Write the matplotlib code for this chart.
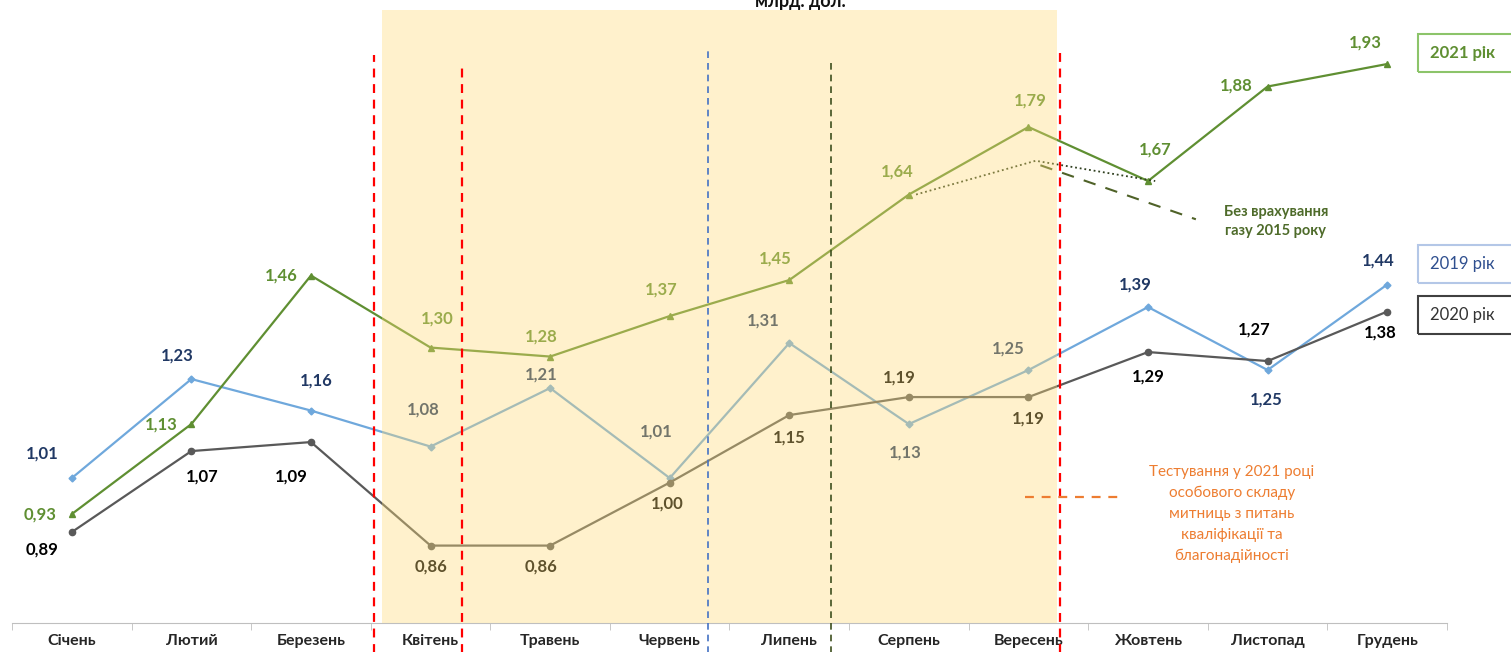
import matplotlib
matplotlib.use("Agg")
import matplotlib.pyplot as plt
from matplotlib.patches import Rectangle

FONT = ["Lato", "DejaVu Sans"]
plt.rcParams["font.family"] = FONT

months = ["Січень", "Лютий", "Березень", "Квітень", "Травень", "Червень",
          "Липень", "Серпень", "Вересень", "Жовтень", "Листопад", "Грудень"]
y2019 = [1.01, 1.23, 1.16, 1.08, 1.21, 1.01, 1.31, 1.13, 1.25, 1.39, 1.25, 1.44]
y2020 = [0.89, 1.07, 1.09, 0.86, 0.86, 1.00, 1.15, 1.19, 1.19, 1.29, 1.27, 1.38]
y2021 = [0.93, 1.13, 1.46, 1.30, 1.28, 1.37, 1.45, 1.64, 1.79, 1.67, 1.88, 1.93]
# line without 2015 gas (Aug-Oct), as drawn
no_gas_x = [7, 8, 9]
no_gas_y = [1.64, 1.715, 1.67]

# label offsets (pixels, x right / y down)
off2021 = [(-32, 0), (-30, 0), (-30, 0), (7, -29), (-9, -20), (-8, -27),
           (-14, -22), (-12, -23), (2, -27), (7, -32), (-31, -1), (-22, -21)]
off2019 = [(-30, -25), (-14, -24), (5, -30), (-7, -37), (-9, -14), (-13, -47),
           (-26, -23), (-4, 28), (-20, -22), (-13, -23), (-1, 29), (-9, -24)]
off2020 = [(-30, 17), (11, 25), (-20, 34), (0, 21), (-9, 21), (-2, 21),
           (0, 22), (-10, -20), (0, 21), (0, 24), (-13, -32), (-7, 21)]

C2021 = "#5f8f32"
C2019 = "#6fa8dc"
C2019_LBL = "#203864"
C2020 = "#595959"
C2020_LBL = "#000000"

fig = plt.figure(figsize=(15.11, 6.52), dpi=100)
ax = fig.add_axes([12 / 1511, 29 / 652, 1435 / 1511, 613 / 652])
x = list(range(len(months)))

ax.plot(x, y2019, color=C2019, lw=1.6, marker="D", ms=3.5, zorder=3)
ax.plot(x, y2020, color=C2020, lw=1.6, marker="o", ms=4.5, zorder=3)
ax.plot(x, y2021, color=C2021, lw=1.6, marker="^", ms=5, zorder=4)
ax.plot([v + 0.06 for v in no_gas_x], no_gas_y, color="#2f3f1f", lw=1.3,
        ls=(0, (1, 1.6)), zorder=4)
ax.plot([8.1, 9.4], [1.705, 1.585], color="#4f6228", lw=1.5,
        ls=(0, (6, 5)), zorder=4)

def labels(vals, offs, color):
    for i, (v, (dx, dy)) in enumerate(zip(vals, offs)):
        ax.annotate(f"{v:.2f}".replace(".", ","), (i, v), xytext=(dx, -dy),
                    textcoords="offset pixels", ha="center", va="center",
                    fontsize=12, fontweight="bold", color=color, zorder=5)

labels(y2021, off2021, C2021)
labels(y2019, off2019, C2019_LBL)
labels(y2020, off2020, C2020_LBL)

# highlighted period (drawn over lines to tint them)
ax.axvspan(2.59, 8.24, ymin=0, ymax=1, color="#ffdc78", alpha=0.375,
           lw=0, zorder=6)

# vertical dashed markers
vlines = [(2.525, 0.927, "#ff0000", 1.6), (3.26, 0.914, "#ff0000", 1.6),
          (5.32, 0.935, "#4472c4", 1.2), (6.35, 0.918, "#3d4f1e", 1.2),
          (8.26, 0.938, "#ff0000", 1.6)]
for xv, top, col, lw in vlines:
    ax.plot([xv, xv], [-0.05, top], transform=ax.get_xaxis_transform(),
            color=col, lw=lw, ls=(0, (4, 3)), clip_on=False, zorder=7)

ax.plot([7.97, 8.76], [0.968, 0.968], color="#ed7d31", lw=1.6,
        ls=(0, (4, 3.5)), zorder=7)

ax.text(10.07, 1.58, "Без врахування\nгазу 2015 року", ha="center",
        va="center", fontsize=10.5, fontweight="bold", color="#4e6b2a",
        linespacing=1.45, zorder=8)
ax.text(9.7, 0.93, "Тестування у 2021 році\nособового складу\n"
        "митниць з питань\nкваліфікації та\nблагонадійності",
        ha="center", va="center", fontsize=11, color="#ed7d31",
        linespacing=1.6, zorder=8)

ax.set_xlim(-0.5, 11.5)
ax.set_ylim(0.688, 2.05)
ax.set_xticks(x)
ax.set_xticklabels(months, fontsize=11.5, fontweight="bold", color="#262626")
ax.set_xticks([v - 0.5 for v in range(13)], minor=True)
ax.tick_params(axis="x", which="major", length=0, pad=8)
ax.tick_params(axis="x", which="minor", length=5, color="#bfbfbf")
ax.set_yticks([])
for s in ("top", "right", "left"):
    ax.spines[s].set_visible(False)
ax.spines["bottom"].set_color("#bfbfbf")

fig.text(0.53, 0.997, "млрд. дол.", ha="center", va="center", fontsize=13,
         fontweight="bold", color="#111111")

legend_boxes = [("2021 рік", 34, "#8cc46a", C2021, "bold"),
                ("2019 рік", 245, "#b4c7e7", "#2f4f8f", "normal"),
                ("2020 рік", 296, "#404040", "#333333", "normal")]
for txt, top, edge, tc, fw in legend_boxes:
    fig.patches.append(Rectangle((1418 / 1511, 1 - (top + 38) / 652),
                                 110 / 1511, 38 / 652, transform=fig.transFigure,
                                 fill=False, edgecolor=edge, lw=1.5))
    fig.text(1430 / 1511, 1 - (top + 19) / 652, txt, ha="left", va="center",
             fontsize=12, fontweight=fw, color=tc)

fig.savefig("out.png", dpi=100)
